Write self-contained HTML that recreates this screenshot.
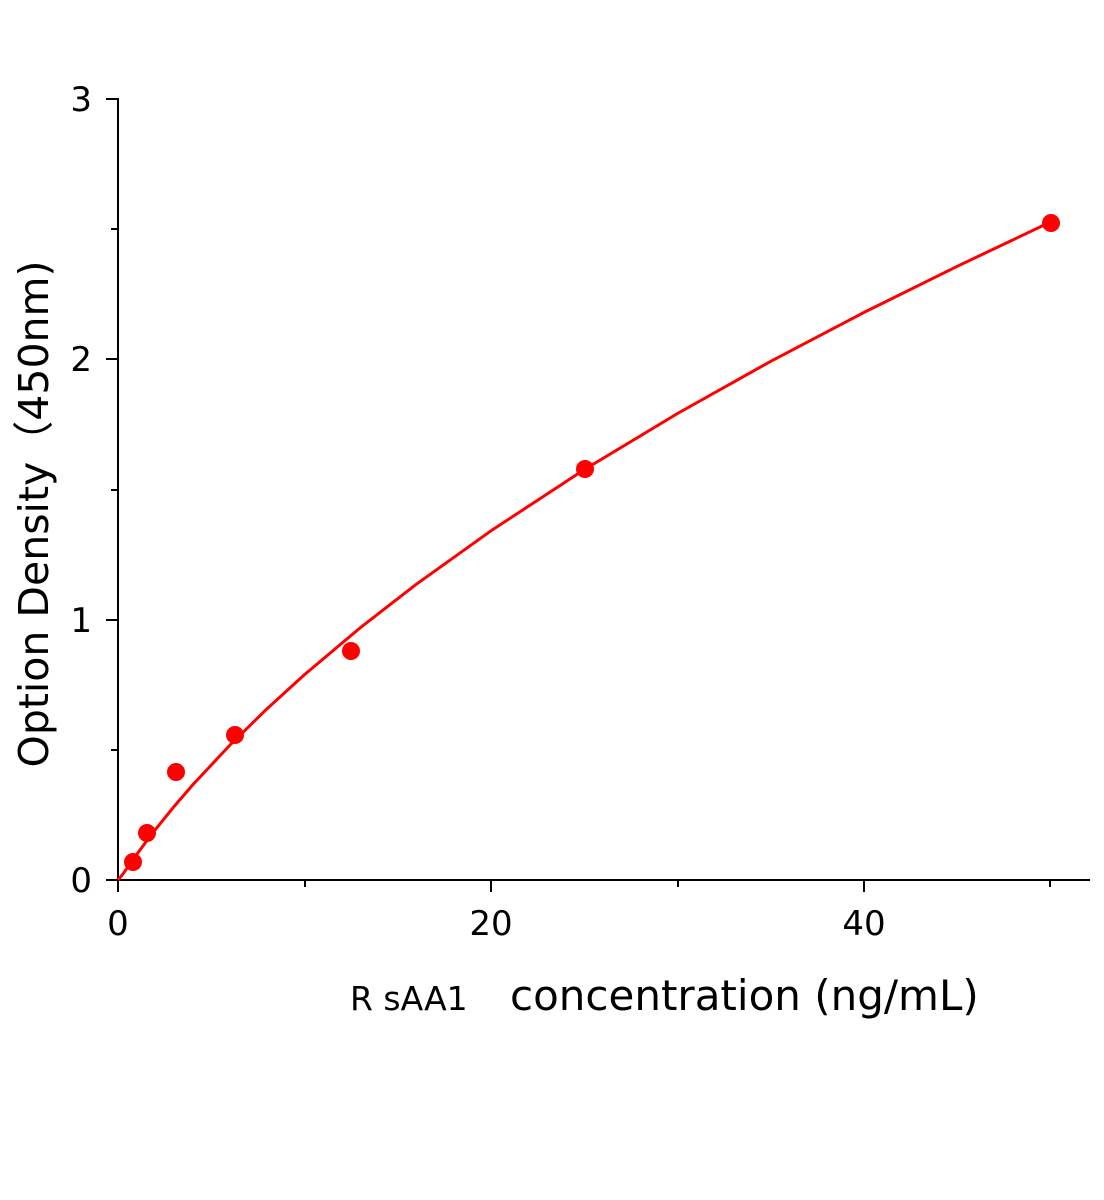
<!DOCTYPE html>
<html><head><meta charset="utf-8"><style>
body{margin:0;background:#fff;}
svg{display:block;font-family:"DejaVu Sans","Liberation Sans",sans-serif;}
</style></head><body>
<svg width="1104" height="1200" viewBox="0 0 1104 1200" xmlns="http://www.w3.org/2000/svg">
<g stroke="#000" stroke-width="2" fill="none">
<line x1="118" y1="98" x2="118" y2="881"/>
<line x1="117" y1="880" x2="1090" y2="880"/>
<line x1="106" y1="99" x2="118" y2="99"/>
<line x1="106" y1="359" x2="118" y2="359"/>
<line x1="106" y1="620" x2="118" y2="620"/>
<line x1="106" y1="880" x2="118" y2="880"/>
<line x1="111" y1="229" x2="118" y2="229"/>
<line x1="111" y1="490" x2="118" y2="490"/>
<line x1="111" y1="750" x2="118" y2="750"/>
<line x1="118" y1="880" x2="118" y2="892"/>
<line x1="491" y1="880" x2="491" y2="892"/>
<line x1="864" y1="880" x2="864" y2="892"/>
<line x1="305" y1="880" x2="305" y2="887"/>
<line x1="678" y1="880" x2="678" y2="887"/>
<line x1="1050" y1="880" x2="1050" y2="887"/>
</g>
<g font-size="34" fill="#000">
<text x="92" y="111" text-anchor="end">3</text>
<text x="92" y="371" text-anchor="end">2</text>
<text x="92" y="632" text-anchor="end">1</text>
<text x="92" y="892" text-anchor="end">0</text>
<text x="118" y="935" text-anchor="middle">0</text>
<text x="491" y="935" text-anchor="middle">20</text>
<text x="864" y="935" text-anchor="middle">40</text>
</g>
<text transform="translate(48,514) rotate(-90)" font-size="41" text-anchor="middle">Option Density（450nm)</text>
<text x="350" y="1010" font-size="33">R sAA1</text>
<text x="510" y="1010" font-size="42">concentration (ng/mL)</text>
<polyline fill="none" stroke="#f00" stroke-width="3" stroke-linejoin="round" points="118,880 122.7,874.3 127.3,867.7 136.65,854.5 146,841.9 155.3,829.7 174,806.6 192.6,785 229.9,745.1 267.2,708.6 304.5,674.6 360.45,627.6 416.4,584.2 491,530.8 584.25,469.6 677.5,413.5 770.75,361.3 864,312.4 957.25,266.3 1050.5,222"/>
<g fill="#f00">
<circle cx="133" cy="862" r="9"/>
<circle cx="147" cy="833" r="9"/>
<circle cx="176" cy="772" r="9"/>
<circle cx="235" cy="735" r="9"/>
<circle cx="351" cy="651" r="9"/>
<circle cx="585" cy="469" r="9"/>
<circle cx="1051" cy="223" r="9"/>
</g>
</svg>
</body></html>
